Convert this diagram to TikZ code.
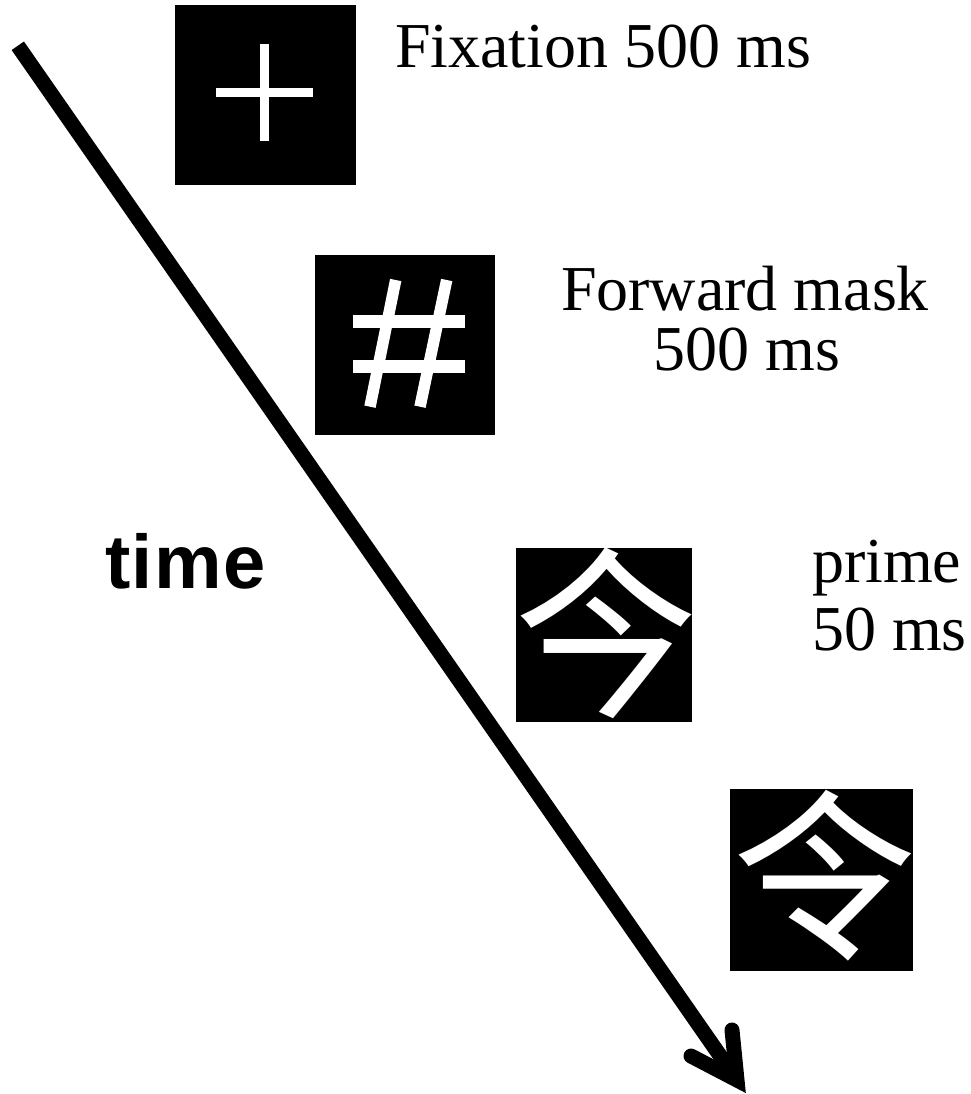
\documentclass[tikz,border=0pt]{standalone}
\usepackage{fontspec}
\setmainfont{Liberation Serif}
\newfontfamily\labelsans[LetterSpace=2]{Liberation Sans}
\newfontfamily\kanjifont{Noto Sans CJK SC}
\begin{document}
\begin{tikzpicture}[x=1pt,y=-1pt,
  screen/.style={fill=black,draw=none,inner sep=0pt,outer sep=0pt},
  stimchar/.style={inner sep=0pt,outer sep=0pt,text=white,
                   font=\kanjifont\fontsize{184}{184}\selectfont},
  glyphline/.style={draw=white,line cap=butt},
  caption/.style={inner sep=0pt,outer sep=0pt,font=\fontsize{64}{64}\selectfont},
  timeline/.style={line width=15pt,black}]
\useasboundingbox (0,0) rectangle (970,1094);

% stimulus screens
\node[screen,minimum width=181pt,minimum height=180pt,anchor=north west] (fix) at (175,5) {};
\node[screen,minimum width=180pt,minimum height=180pt,anchor=north west] (mask) at (315,255) {};
\node[screen,minimum width=176pt,minimum height=174pt,anchor=north west] (prime) at (516,548) {};
\node[screen,minimum width=183pt,minimum height=182pt,anchor=north west] (target) at (730,789) {};
\node[stimchar] (primechar) at (606,633) {今};
\node[stimchar] (targetchar) at (824,876) {令};

% fixation cross
\draw[glyphline,line width=9pt] (264.5,44.3) -- (264.5,141);
\draw[glyphline,line width=9pt] (215.7,92.8) -- (313.3,92.8);

% hash mask
\draw[glyphline,line width=11.5pt] (395.7,280) -- (370,406.7);
\draw[glyphline,line width=11.5pt] (446.7,280) -- (420,406.7);
\draw[glyphline,line width=13pt] (352.7,321.7) -- (465,321.7);
\draw[glyphline,line width=13pt] (352.7,366.3) -- (465,366.3);

% captions
\node[caption,anchor=base west] (capfix) at (395,68) {Fixation 500 ms};
\node[caption,anchor=base] (capmask1) at (745,310) {Forward mask};
\node[caption,anchor=base] (capmask2) at (747,370) {500 ms};
\node[caption,anchor=base west] (capprime1) at (812,582) {prime};
\node[caption,anchor=base west] (capprime2) at (812,650) {50 ms};
\node[inner sep=0pt,anchor=base west,font=\labelsans\bfseries\fontsize{76}{76}\selectfont] (timelabel) at (105,588) {time};

% time arrow
\coordinate (tstart) at (17.8,45.8);
\coordinate (ttip) at (737,1080);
\coordinate (tarmR) at (732,1030);
\coordinate (tarmL) at (691,1056);
\draw[timeline,line cap=butt] (tstart) -- (ttip);
\draw[timeline,line cap=round,line join=miter] (tarmR) -- (ttip) -- (tarmL);
\end{tikzpicture}
\end{document}
